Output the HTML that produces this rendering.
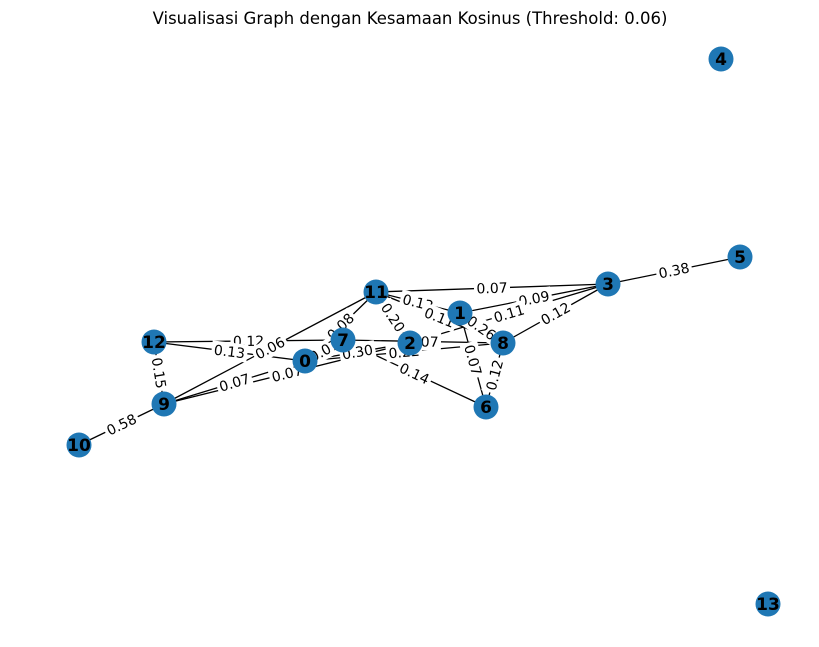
<!DOCTYPE html>
<html><head><meta charset="utf-8"><style>
body{margin:0;background:#fff;font-family:"Liberation Sans","DejaVu Sans",sans-serif;}
svg text{font-family:"DejaVu Sans","Liberation Sans",sans-serif;}
</style></head><body>
<svg id="g" width="819" height="642" xmlns="http://www.w3.org/2000/svg">
<text x="410" y="24" text-anchor="middle" font-size="16.5" fill="#000">Visualisasi Graph dengan Kesamaan Kosinus (Threshold: 0.06)</text>
<g id="edges"></g><g id="elabels"></g><g id="nodes"></g>
</svg>
<script>
const nodeIds=[0,1,2,3,4,5,6,7,8,9,10,11,12,13];
const nodeX=[305,460,410,608,721,740,486,343,503,164,79,376,154,768];
const nodeY=[361,313,343,284,59,257,407,340,343,404,445,292,342,604];
const edgeSrc=[11,1,2,8,11,11,1,11,7,1,8,7,12,12,12,9,11,9,9,0,0,0,9,3];
const edgeDst=[3,3,3,3,1,8,8,2,8,6,6,6,9,7,0,11,0,0,2,7,2,8,10,5];
const edgeW=["0.07","0.09","0.11","0.12","0.13","0.11","0.26","0.20","0.07","0.07","0.12","0.14","0.15","0.12","0.13","0.06","0.08","0.07","0.07","0.07","0.30","0.22","0.58","0.38"];
const NS="http://www.w3.org/2000/svg";
const E=document.getElementById('edges'),L=document.getElementById('elabels'),N=document.getElementById('nodes');
for(let i=0;i<edgeSrc.length;i++){
 const a=edgeSrc[i],b=edgeDst[i];
 const x1=nodeX[a],y1=nodeY[a],x2=nodeX[b],y2=nodeY[b];
 const ln=document.createElementNS(NS,'line');
 ln.setAttribute('x1',x1);ln.setAttribute('y1',y1);ln.setAttribute('x2',x2);ln.setAttribute('y2',y2);
 ln.setAttribute('stroke','#000');ln.setAttribute('stroke-width','1.3');
 
 
 E.appendChild(ln);
 const mx=(x1+x2)/2,my=(y1+y2)/2;
 let ang=Math.atan2(y2-y1,x2-x1)*180/Math.PI;
 if(ang>90)ang-=180; if(ang<-90)ang+=180;
 const g=document.createElementNS(NS,'g');
 g.setAttribute('transform','translate('+mx+','+my+') rotate('+ang+')');
 
 
 const r=document.createElementNS(NS,'rect');
 r.setAttribute('x',-18);r.setAttribute('y',-9);r.setAttribute('width',36);r.setAttribute('height',18);r.setAttribute('fill','#fff');
 g.appendChild(r);
 const t=document.createElementNS(NS,'text');
 t.setAttribute('x',0);t.setAttribute('y',5);t.setAttribute('text-anchor','middle');t.setAttribute('font-size','14');
 t.textContent=edgeW[i];
 g.appendChild(t);
 L.appendChild(g);
}
for(let i=0;i<nodeIds.length;i++){
 const g=document.createElementNS(NS,'g');
 
 
 const c=document.createElementNS(NS,'circle');
 c.setAttribute('cx',nodeX[i]);c.setAttribute('cy',nodeY[i]);c.setAttribute('r',12.5);c.setAttribute('fill','#1f77b4');
 g.appendChild(c);
 const t=document.createElementNS(NS,'text');
 t.setAttribute('x',nodeX[i]);t.setAttribute('y',nodeY[i]+6);t.setAttribute('text-anchor','middle');
 t.setAttribute('font-size','17');t.setAttribute('font-weight','bold');
 t.textContent=nodeIds[i];
 g.appendChild(t);
 N.appendChild(g);
}
</script>
</body></html>
